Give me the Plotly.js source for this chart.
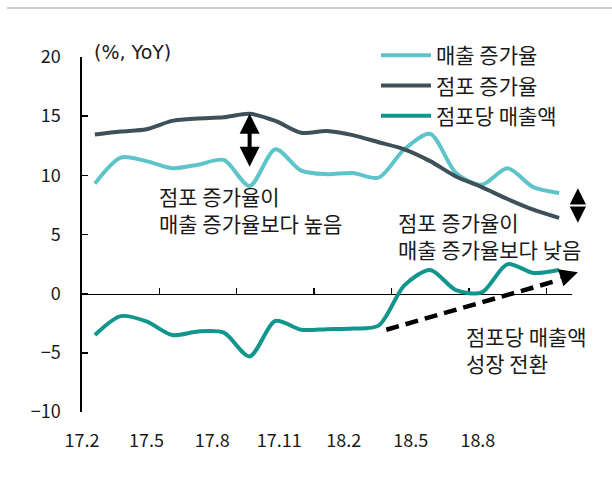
<!DOCTYPE html>
<html>
<head>
<meta charset="utf-8">
<script src="https://cdn.plot.ly/plotly-3.0.1.min.js"></script>
<style>body{margin:0;padding:0;background:#fff;}</style>
</head>
<body>
<div id="chart" style="width:612px;height:481px;"></div>
<script>
// Months (category index 0..18 = 17.2 .. 18.8)
const months = ['17.2','17.3','17.4','17.5','17.6','17.7','17.8','17.9','17.10','17.11','17.12',
                '18.1','18.2','18.3','18.4','18.5','18.6','18.7','18.8'];
const salesGrowth = [9.3, 11.5, 11.2, 10.6, 10.9, 11.3, 9.1, 12.2, 10.4, 10.1, 10.2,
                     9.8, 12.2, 13.5, 10.2, 9.2, 10.6, 9.0, 8.5];
const storeGrowth = [13.45, 13.7, 13.9, 14.6, 14.8, 14.9, 15.2, 14.6, 13.6, 13.75, 13.4,
                     12.8, 12.2, 11.2, 9.9, 9.0, 8.0, 7.1, 6.4];
const salesPerStore = [-3.5, -1.9, -2.35, -3.5, -3.2, -3.3, -5.3, -2.3, -3.05, -3.0, -2.95,
                       -2.7, 0.7, 2.0, 0.3, 0.1, 2.5, 1.75, 2.0];
const seriesNames = ['매출 증가율', '점포 증가율', '점포당 매출액'];
const tickLabels = ['17.2','17.5','17.8','17.11','18.2','18.5','18.8'];
const tickLabelPos = [-0.5, 2.0, 4.55, 7.15, 9.65, 12.25, 14.85];
const tickMarkPos = [2.5, 5.5, 8.5, 11.5, 14.5, 17.5];

const idx = months.map((m, i) => i);
const FONT = '"Noto Sans CJK KR", "Noto Sans", sans-serif';

function lineTrace(y, name, color, xaxis) {
  return {
    x: idx, y: y, name: name, type: 'scatter', mode: 'lines', xaxis: xaxis || 'x',
    text: months, hovertemplate: '%{text}: %{y}<extra></extra>',
    line: {color: color, width: 4, shape: 'spline', smoothing: 0.8}
  };
}

const data = [
  lineTrace(salesGrowth, seriesNames[0], 'rgb(93,197,201)'),
  lineTrace(storeGrowth, seriesNames[1], 'rgb(62,80,89)'),
  lineTrace(salesPerStore, seriesNames[2], 'rgb(16,150,141)', 'x2')
];

const layout = {
  width: 612, height: 481,
  margin: {l: 82, r: 40, t: 57, b: 69},
  paper_bgcolor: '#fff', plot_bgcolor: '#fff',
  font: {family: FONT, size: 18, color: '#1a1a1a'},
  showlegend: true,
  legend: {
    x: 0.6, y: 1.062, xanchor: 'left', yanchor: 'top',
    bgcolor: 'rgba(0,0,0,0)', font: {family: FONT, size: 21, color: '#1a1a1a'},
    itemwidth: 50, tracegroupgap: 0
  },
  xaxis: {
    range: [-0.5, 18.5], showline: false, showgrid: false, zeroline: false,
    ticks: '', tickvals: tickLabelPos, ticktext: tickLabels,
    ticklabelstandoff: 16, tickfont: {family: FONT, size: 18, color: '#1a1a1a'},
    fixedrange: true
  },
  xaxis2: {
    overlaying: 'x', anchor: 'free', position: 1/3, side: 'bottom',
    range: [-0.5, 18.5], showline: true, linecolor: '#000', linewidth: 1.6,
    ticks: 'inside', ticklen: 6, tickwidth: 1.4, tickcolor: '#000',
    tickvals: tickMarkPos, showticklabels: false, showgrid: false, zeroline: false,
    layer: 'below traces', fixedrange: true
  },
  yaxis: {
    range: [-10, 20], tickvals: [-10, -5, 0, 5, 10, 15, 20],
    showline: true, linecolor: '#000', linewidth: 1.6,
    ticks: 'inside', ticklen: 6, tickwidth: 1.4, tickcolor: '#000',
    showgrid: false, zeroline: false, ticklabelstandoff: 16,
    tickfont: {family: FONT, size: 18, color: '#1a1a1a'}, fixedrange: true
  },
  shapes: [
    {type: 'line', xref: 'paper', yref: 'paper', x0: -0.153, x1: 1.09, y0: 1.138, y1: 1.138,
     line: {color: 'rgb(200,209,216)', width: 2}},
    {type: 'line', xref: 'x', yref: 'y', x0: 11.3, y0: -3.05, x1: 18.0, y1: 1.15,
     line: {color: '#000', width: 4.5, dash: '13px,7px'}}
  ],
  annotations: [
    {xref: 'paper', yref: 'paper', x: 0.02, y: 1.014, xanchor: 'left', yanchor: 'middle',
     text: '(%, YoY)', showarrow: false,
     font: {family: '"DejaVu Sans", sans-serif', size: 19, color: '#1a1a1a'}},
    {xref: 'x', yref: 'y', x: 2.4, y: 7.1, xanchor: 'left', yanchor: 'middle', align: 'left',
     text: '점포 증가율이<br>매출 증가율보다 높음', showarrow: false,
     font: {family: FONT, size: 21, color: '#1a1a1a'}},
    {xref: 'x', yref: 'y', x: 11.69, y: 4.94, xanchor: 'left', yanchor: 'middle', align: 'left',
     text: '점포 증가율이<br>매출 증가율보다 낮음', showarrow: false,
     font: {family: FONT, size: 21, color: '#1a1a1a'}},
    {xref: 'x', yref: 'y', x: 14.32, y: -4.68, xanchor: 'left', yanchor: 'middle', align: 'left',
     text: '점포당 매출액<br>성장 전환', showarrow: false,
     font: {family: FONT, size: 21, color: '#1a1a1a'}},
    // double arrow at 17.8
    {xref: 'x', yref: 'y', x: 6, y: 15.2, axref: 'x', ayref: 'y', ax: 6, ay: 10.6,
     text: '', showarrow: true, arrowside: 'end+start', arrowhead: 2, startarrowhead: 2,
     arrowwidth: 4, arrowsize: 1, startarrowsize: 1, arrowcolor: '#000'},
    // small double arrow at right edge
    {xref: 'paper', yref: 'y', x: 1.012, y: 8.9, ax: 0, ay: 17,
     text: '', showarrow: true, arrowhead: 2, arrowwidth: 2, arrowsize: 1.62, arrowcolor: '#000'},
    {xref: 'paper', yref: 'y', x: 1.012, y: 6.0, ax: 0, ay: -17,
     text: '', showarrow: true, arrowhead: 2, arrowwidth: 2, arrowsize: 1.62, arrowcolor: '#000'},
    // head of dashed trend arrow
    {xref: 'paper', yref: 'y', x: 1.012, y: 1.8, ax: -19, ay: 6,
     text: '', showarrow: true, arrowhead: 2, arrowwidth: 2, arrowsize: 1.8, arrowcolor: '#000'}
  ]
};

Plotly.newPlot('chart', data, layout, {displayModeBar: false, staticPlot: true});
</script>
</body>
</html>
